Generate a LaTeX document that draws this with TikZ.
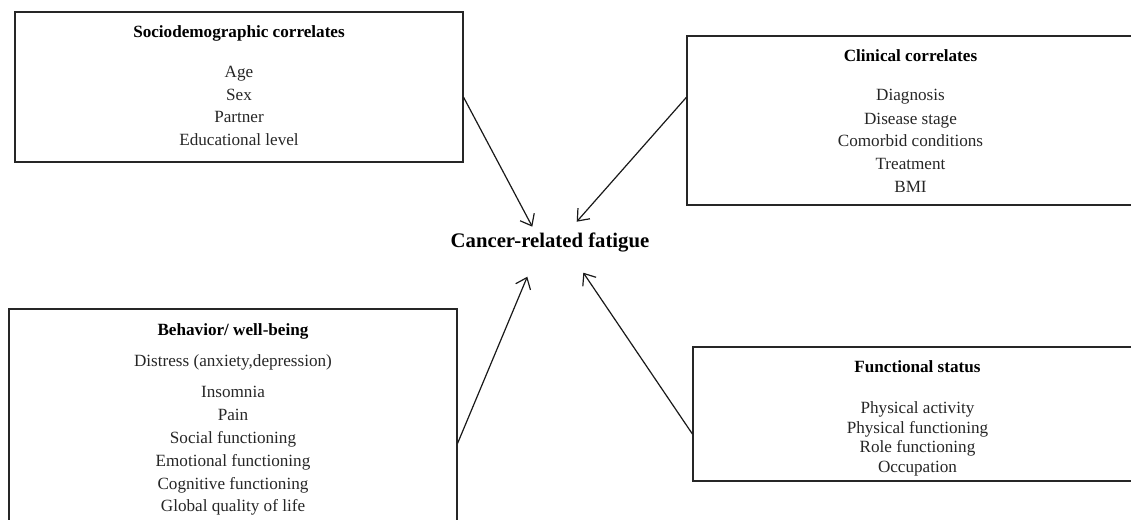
\documentclass[tikz,border=0pt]{standalone}
\usepackage{fontspec}
\setmainfont{Liberation Serif}
\usetikzlibrary{arrows.meta}
\begin{document}
\begin{tikzpicture}[x=1bp,y=-1bp,
  boxnode/.style={draw=black!85,line width=1.2bp,rectangle,inner sep=0pt,minimum width=448bp},
  ttl/.style={anchor=base,inner sep=0pt,font=\fontsize{17.2}{20}\selectfont\bfseries,yshift=-2bp},
  itm/.style={anchor=base,inner sep=0pt,font=\fontsize{17.2}{20}\selectfont,text=black!85,yshift=-2bp},
  arr/.style={line width=1.2bp,black!90,-{Straight Barb[length=10bp,width=16bp,line width=1.2bp]}}]
\useasboundingbox (0,0) rectangle (1131,520);
% boxes
\node[boxnode,minimum height=150bp] (soc) at (239,87) {};
\node[boxnode,minimum height=169bp] (cli) at (911,120.5) {};
\node[boxnode,minimum height=216bp] (beh) at (233,417) {};
\node[boxnode,minimum height=134bp] (fun) at (917,414) {};
% sociodemographic
\node[ttl] (sT) at (239,35.7) {Sociodemographic correlates};
\node[itm] (s1) at (239,76) {Age};
\node[itm] (s2) at (239,98.7) {Sex};
\node[itm] (s3) at (239,120.7) {Partner};
\node[itm] (s4) at (239,143.3) {Educational level};
% clinical
\node[ttl] (cT) at (910.5,60) {Clinical correlates};
\node[itm] (c1) at (910.5,99) {Diagnosis};
\node[itm] (c2) at (910.5,122.3) {Disease stage};
\node[itm] (c3) at (910.5,144.3) {Comorbid conditions};
\node[itm] (c4) at (910.5,167.7) {Treatment};
\node[itm] (c5) at (910.5,190.7) {BMI};
% behavior
\node[ttl] (bT) at (233,334) {Behavior/ well-being};
\node[itm] (b1) at (233,365) {Distress (anxiety,depression)};
\node[itm] (b2) at (233,395) {Insomnia};
\node[itm] (b3) at (233,418.5) {Pain};
\node[itm] (b4) at (233,441.5) {Social functioning};
\node[itm] (b5) at (233,464) {Emotional functioning};
\node[itm] (b6) at (233,487) {Cognitive functioning};
\node[itm] (b7) at (233,509.5) {Global quality of life};
% functional
\node[ttl] (fT) at (917.5,370.7) {Functional status};
\node[itm] (f1) at (917.5,411) {Physical activity};
\node[itm] (f2) at (917.5,431) {Physical functioning};
\node[itm] (f3) at (917.5,450.7) {Role functioning};
\node[itm] (f4) at (917.5,470.7) {Occupation};
% center
\node[anchor=base,inner sep=0pt,font=\fontsize{20.8}{24}\selectfont\bfseries,yshift=-2bp] (crf) at (550,245.7) {Cancer-related fatigue};
% arrow ends
\coordinate (sa) at (soc.east |- 0,97.3);
\coordinate (ca) at (cli.west |- 0,97.3);
\coordinate (ba) at (beh.east |- 0,443.3);
\coordinate (fa) at (fun.west |- 0,434);
\coordinate (st) at (532.3,226.7);
\coordinate (ct) at (576.7,221.7);
\coordinate (bt) at (527.3,276.7);
\coordinate (ft) at (583.3,272.7);
\draw[arr] (sa) -- (st);
\draw[arr] (ca) -- (ct);
\draw[arr] (ba) -- (bt);
\draw[arr] (fa) -- (ft);
\end{tikzpicture}
\end{document}
